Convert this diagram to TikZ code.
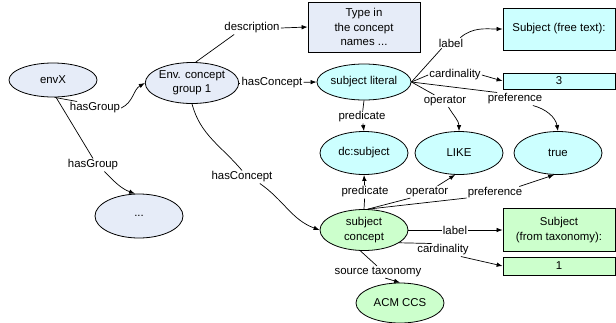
\documentclass[tikz,border=0pt]{standalone}
\usepackage{fontspec}
\setmainfont{Liberation Sans}
\usetikzlibrary{arrows.meta,shapes.geometric}
\definecolor{envgrey}{HTML}{E6ECF8}
\definecolor{litcyan}{HTML}{CCFFFF}
\definecolor{congreen}{HTML}{CCFFCC}

\begin{document}
\begin{tikzpicture}[x=1pt,y=-1pt,
    every node/.style={font=\fontsize{11.4}{14.2}\selectfont},
    oval/.style={ellipse,draw=black,line width=0.8pt,minimum width=88pt,
      minimum height=40pt,inner sep=0pt,align=center},
    box/.style={draw=black,line width=0.8pt,minimum width=112pt,align=center,inner sep=0pt},
    rel/.style={fill=white,inner sep=1pt},
    link/.style={line width=0.7pt},
    arrow/.style={link,-{Latex[length=6pt,width=4.5pt]}}
  ]
    \useasboundingbox (0,0) rectangle (616,322);
    \node[oval,fill=envgrey,minimum height=34pt] (envX) at (53,80) {envX};
    \node[oval,fill=envgrey,minimum height=41pt] (group) at (192,83) {Env. concept\\group 1};
    \node[oval,fill=envgrey,minimum height=44pt] (more) at (139,216) {...};
    \node[box,fill=envgrey,minimum height=50pt] (typein) at (364,27) {Type in\\the concept\\names ...};
    \node[oval,fill=litcyan,minimum height=36pt] (literal) at (364,82) {subject literal};
    \node[box,fill=litcyan,minimum height=42pt] (freetext) at (559,29) {Subject (free text):};
    \node[box,fill=litcyan,minimum height=16pt] (three) at (559,81) {3};
    \node[oval,fill=litcyan,minimum height=43pt] (dcsubj) at (364,153) {dc:subject};
    \node[oval,fill=litcyan,minimum height=43pt] (like) at (459,153) {LIKE};
    \node[oval,fill=litcyan,minimum height=43pt] (true) at (558,153) {true};
    \node[oval,fill=congreen,minimum height=41pt] (concept) at (364,230) {subject\\concept};
    \node[box,fill=congreen,minimum height=43pt] (taxonomy) at (559,230) {Subject\\(from taxonomy):};
    \node[box,fill=congreen,minimum height=18pt] (one) at (559,266) {1};
    \node[oval,fill=congreen,minimum height=40pt] (acm) at (400,303) {ACM CCS};

    \node[rel] (hasgroupA) at (95,108) {hasGroup};
    \node[rel] (hasgroupB) at (93,165) {hasGroup};
    \node[rel] (descr) at (252,28) {description};
    \node[rel] (hasconceptA) at (272,83) {hasConcept};
    \node[rel] (hasconceptB) at (242,177) {hasConcept};
    \node[rel] (labelA) at (451,43) {label};
    \node[rel] (cardA) at (455,75) {cardinality};
    \node[rel] (operA) at (445,101) {operator};
    \node[rel] (prefA) at (515,99) {preference};
    \node[rel] (predA) at (362,117) {predicate};
    \node[rel] (predB) at (365,192) {predicate};
    \node[rel] (operB) at (427,192) {operator};
    \node[rel] (prefB) at (495,193) {preference};
    \node[rel] (labelB) at (455,230) {label};
    \node[rel] (cardB) at (443,250) {cardinality};
    \node[rel] (source) at (378,272) {source taxonomy};

    \draw[link] (envX.-85) -- (hasgroupA.160);
    \draw[arrow] (hasgroupA.east) to[out=25,in=-150] (group.west);
    \draw[link] (envX.-80) -- (hasgroupB.north);
    \draw[arrow] (hasgroupB.-30) to[out=-45,in=160] (more.100);
    \draw[link] (group.80) -- (descr.-160);
    \draw[arrow] (descr.east) -- (typein.west);
    \draw[link] (group.east) -- (hasconceptA);
    \draw[arrow] (hasconceptA) -- (literal.west);
    \draw[link] (group.-90) to[out=-75,in=130] (hasconceptB.north);
    \draw[arrow] (hasconceptB.-20) to[out=-35,in=160] (concept.west);
    \draw[link] (literal.east) -- (labelA.-150);
    \draw[arrow] (labelA.30) to[out=40,in=180] (freetext.west);
    \draw[link] (literal.east) -- (cardA.west);
    \draw[arrow] (cardA.east) -- (three.west);
    \draw[link] (literal.east) -- (operA.150);
    \draw[arrow] (operA.-60) to[out=-60,in=90] (like.north);
    \draw[link] (literal.east) -- (prefA.160);
    \draw[arrow] (prefA.-20) to[out=-15,in=100] (true.north);
    \draw[link] (literal.south) -- (predA);
    \draw[arrow] (predA) -- (dcsubj.north);
    \draw[link] (concept.north) -- (predB);
    \draw[arrow] (predB) -- (dcsubj.south);
    \draw[link] (concept.80) -- (operB.-160);
    \draw[arrow] (operB.30) -- (like.-100);
    \draw[link] (concept.80) -- (prefB.-170);
    \draw[arrow] (prefB.15) -- (true.-100);
    \draw[link] (concept.east) -- (labelB);
    \draw[arrow] (labelB) -- (taxonomy.west);
    \draw[link] (concept.-20) -- (cardB.150);
    \draw[arrow] (cardB.-20) -- (one.west);
    \draw[link] (concept.-100) -- (source.100);
    \draw[arrow] (source.-40) -- (acm.north);
  \end{tikzpicture}
\end{document}
